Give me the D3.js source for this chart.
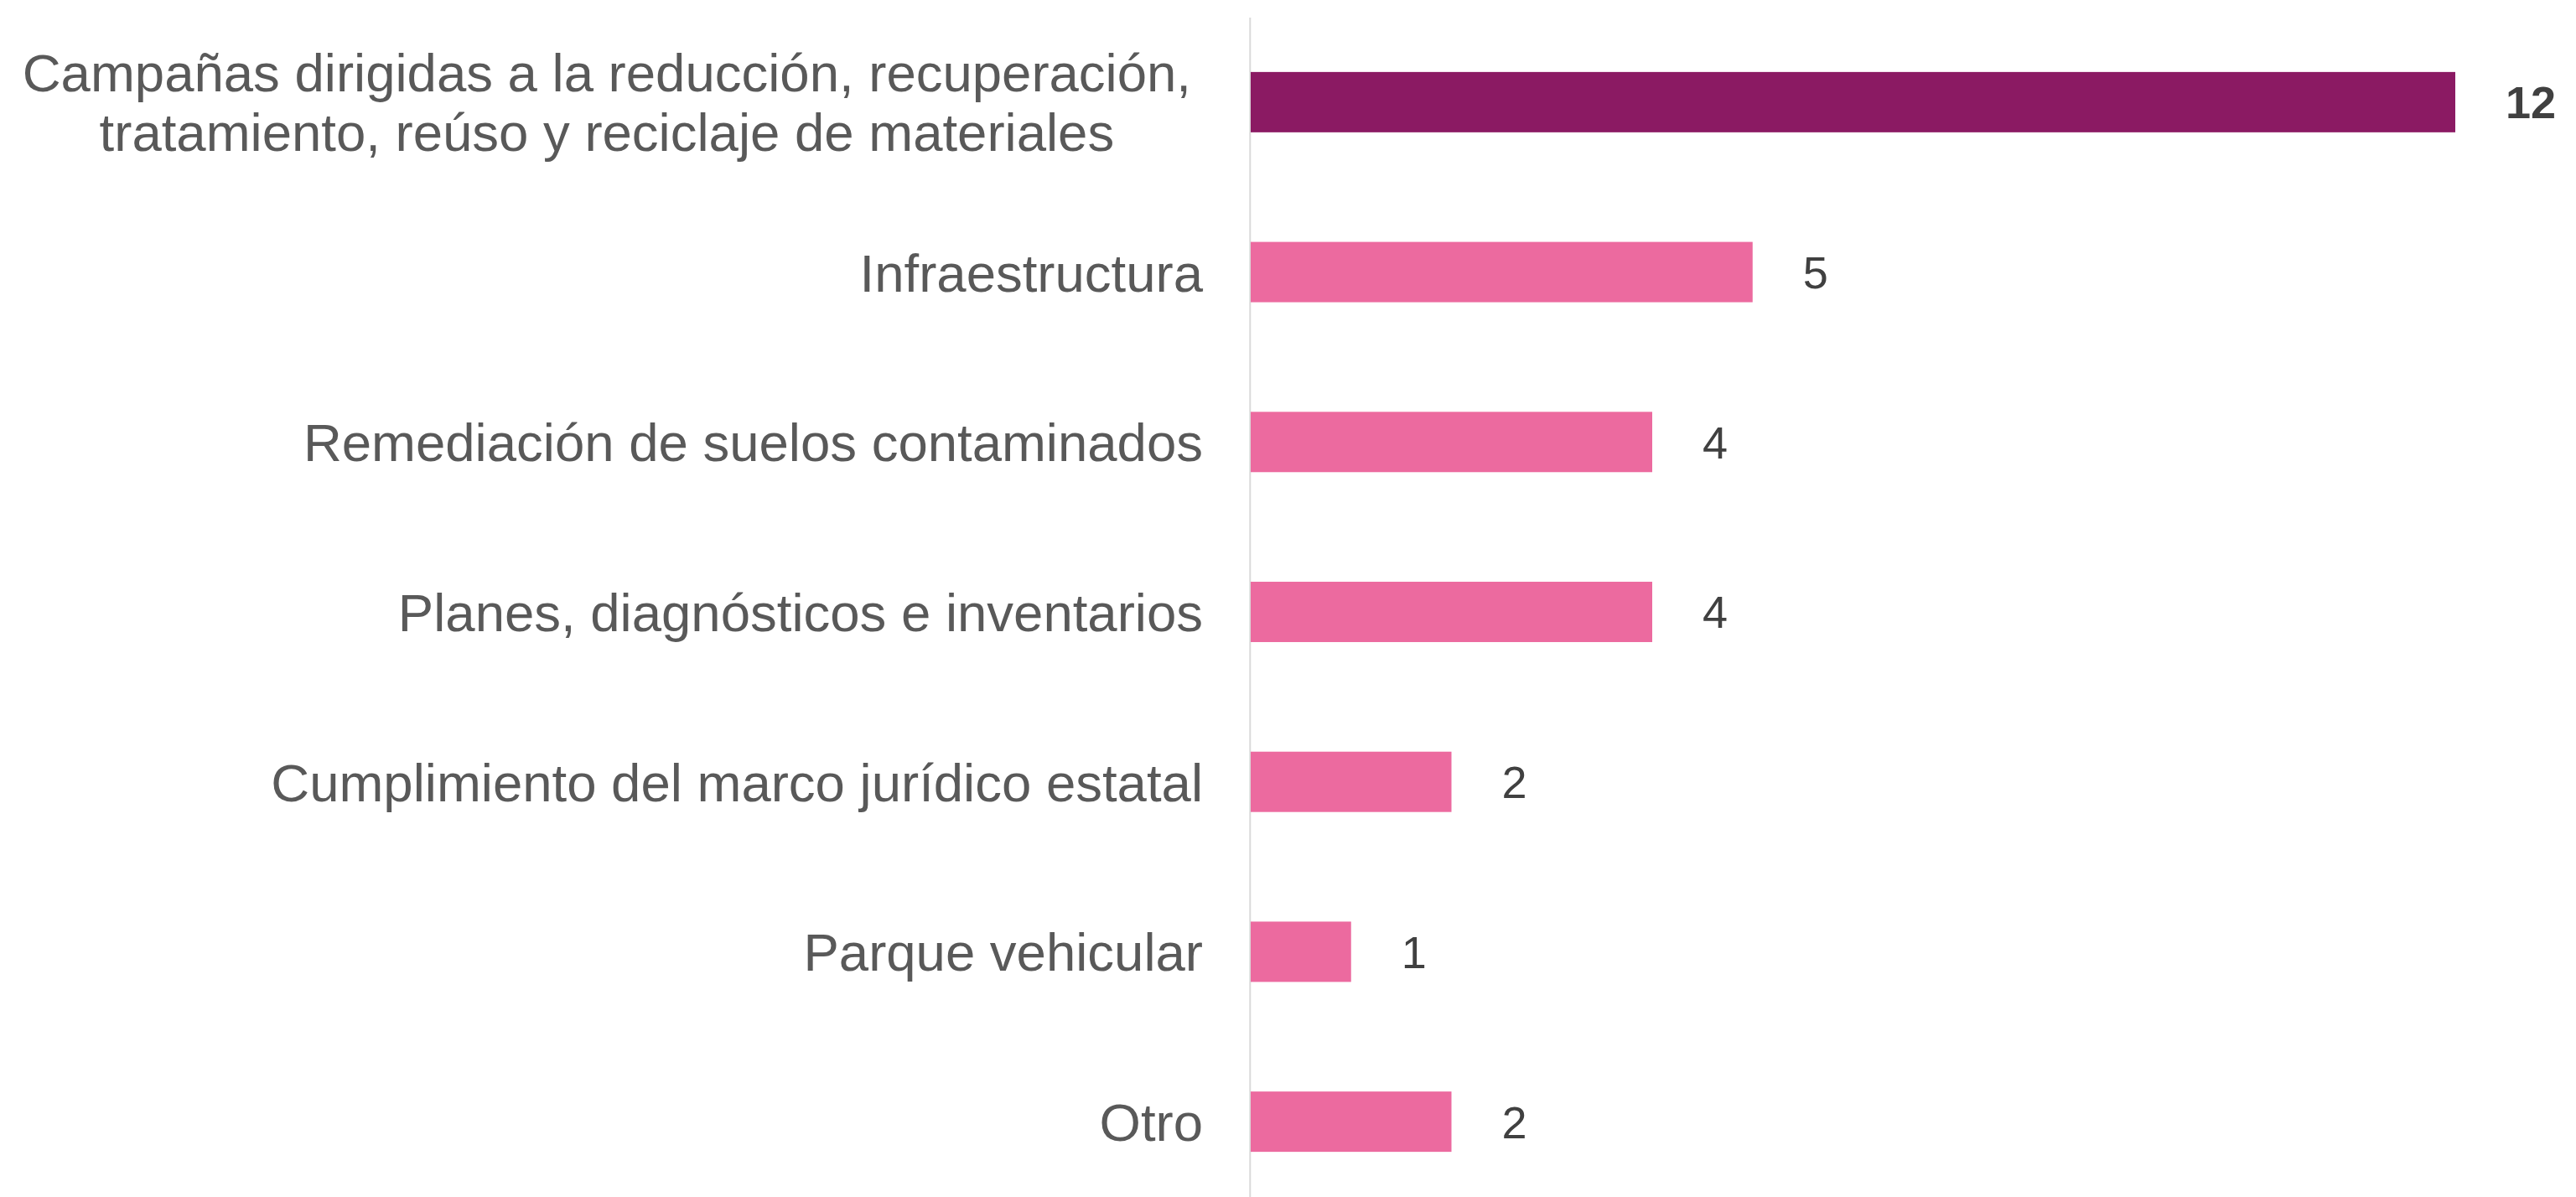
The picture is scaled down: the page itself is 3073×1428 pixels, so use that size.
<!DOCTYPE html>
<html>
<head>
<meta charset="utf-8">
<script src="https://cdn.jsdelivr.net/npm/d3@7"></script>
<style>
  html, body { margin: 0; padding: 0; background: #ffffff; }
  svg { display: block; }
</style>
</head>
<body>
<svg id="chart" width="3073" height="1428"></svg>
<script>
const categories = [
  "Campañas dirigidas a la reducción, recuperación,\ntratamiento, reúso y reciclaje de materiales",
  "Infraestructura",
  "Remediación de suelos contaminados",
  "Planes, diagnósticos e inventarios",
  "Cumplimiento del marco jurídico estatal",
  "Parque vehicular",
  "Otro"
];
const values = [12, 5, 4, 4, 2, 1, 2];
const highlight = [true, false, false, false, false, false, false];

const W = 3073, H = 1428;
const svg = d3.select("#chart");

const data = categories.map((c, i) => ({ cat: c, value: values[i], hi: highlight[i] }));

const x = d3.scaleLinear().domain([0, 12]).range([1492, 2929]);
const y = d3.scaleBand().domain(categories).range([20.5, 1439.5]).paddingInner(0.645).paddingOuter(0.3225);

// axis line
svg.append("line")
  .attr("x1", 1491.3).attr("x2", 1491.3)
  .attr("y1", 21).attr("y2", H)
  .attr("stroke", "#d9d9d9").attr("stroke-width", 2);

// bars
svg.selectAll("rect.bar").data(data).join("rect")
  .attr("class", "bar")
  .attr("x", x(0))
  .attr("y", d => y(d.cat))
  .attr("width", d => x(d.value) - x(0))
  .attr("height", y.bandwidth())
  .attr("fill", d => d.hi ? "#8B1A63" : "#EC6A9F");

// value labels
svg.selectAll("text.val").data(data).join("text")
  .attr("class", "val")
  .attr("x", d => x(d.value) + 60)
  .attr("y", d => y(d.cat) + y.bandwidth() / 2)
  .attr("dy", "0.36em")
  .attr("font-family", "'Liberation Sans', Arial, sans-serif")
  .attr("font-size", 54)
  .attr("font-weight", d => d.hi ? "bold" : "normal")
  .attr("fill", "#404040")
  .text(d => d.value);

// category labels
const lineH = 71;
const labels = svg.selectAll("text.cat").data(data).join("text")
  .attr("class", "cat")
  .attr("font-family", "'Liberation Sans', Arial, sans-serif")
  .attr("font-size", 63.5)
  .attr("fill", "#595959");

labels.each(function(d) {
  const lines = d.cat.split("\n");
  const cy = y(d.cat) + y.bandwidth() / 2;
  const t = d3.select(this);
  if (lines.length === 1) {
    t.attr("text-anchor", "end");
    t.append("tspan").attr("x", 1435).attr("y", cy + 23).text(lines[0]);
  } else {
    t.attr("text-anchor", "middle");
    const spans = lines.map((ln, i) =>
      t.append("tspan")
        .attr("y", cy + 23 + (i - (lines.length - 1) / 2) * lineH)
        .text(ln));
    const maxW = d3.max(spans, s => s.node().getComputedTextLength());
    const cx = 1421 - maxW / 2;
    spans.forEach(s => s.attr("x", cx));
  }
});
</script>
</body>
</html>
